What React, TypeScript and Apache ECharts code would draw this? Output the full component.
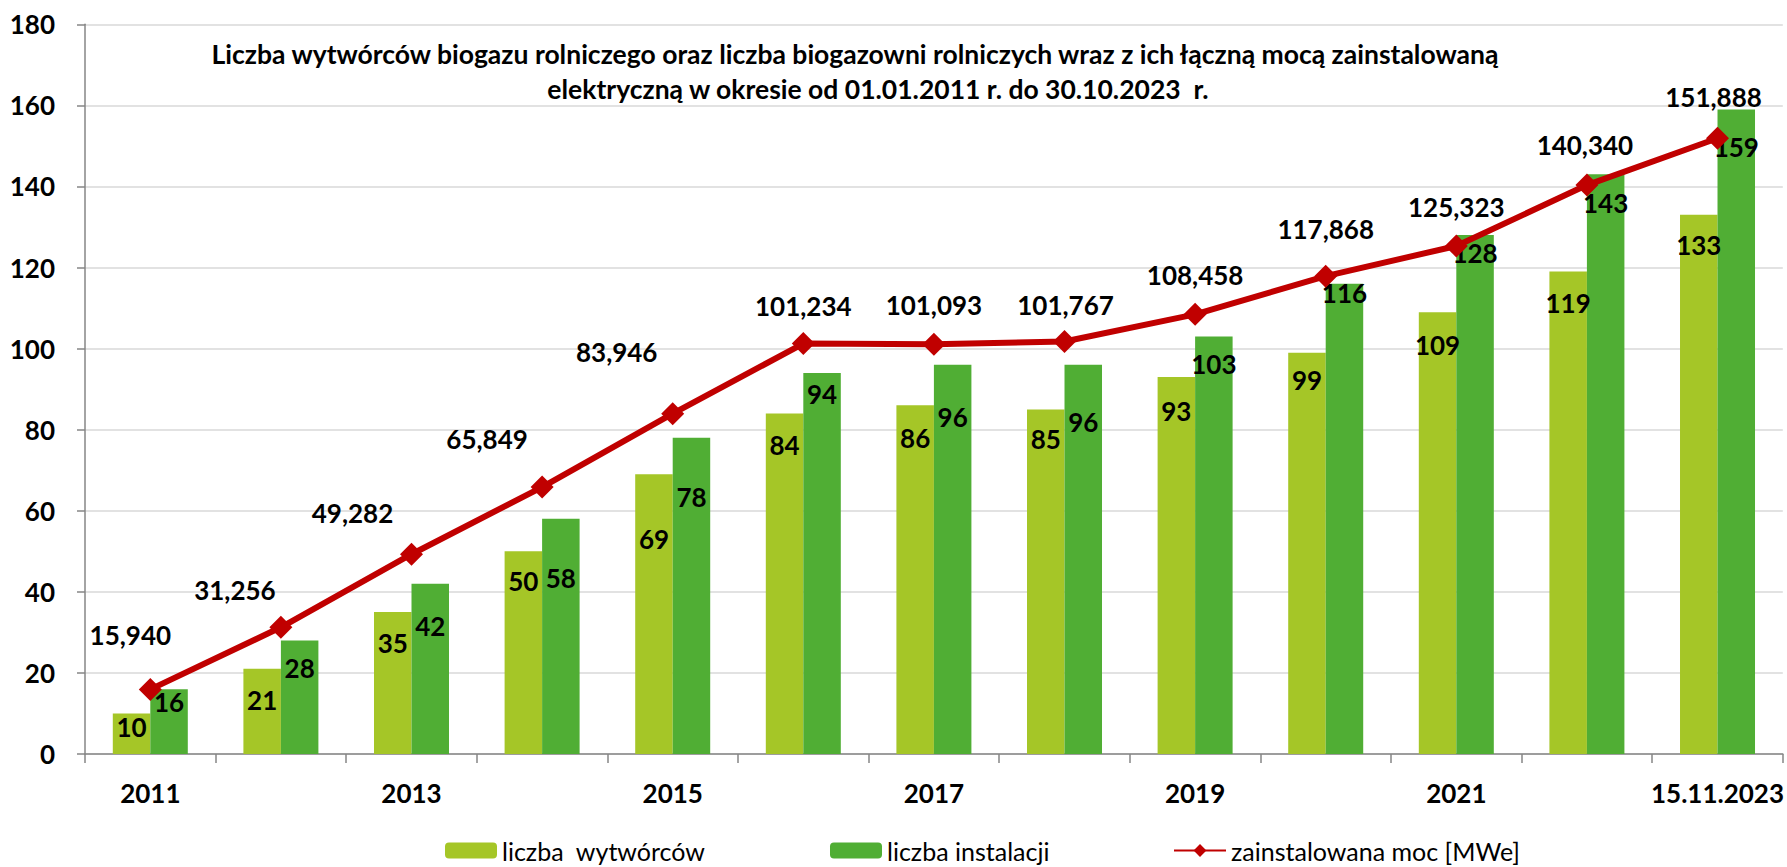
import React, { useEffect, useRef } from "react";
import * as echarts from "echarts";

const categories = ["2011", "2012", "2013", "2014", "2015", "2016", "2017", "2018", "2019", "2020", "2021", "2022", "15.11.2023"];
const producers = [10, 21, 35, 50, 69, 84, 86, 85, 93, 99, 109, 119, 133];
const installations = [16, 28, 42, 58, 78, 94, 96, 96, 103, 116, 128, 143, 159];
const capacity = [15.94, 31.256, 49.282, 65.849, 83.946, 101.234, 101.093, 101.767, 108.458, 117.868, 125.323, 140.34, 151.888];

const yTicks = { min: 0, max: 180, interval: 20 };

const titleLines = [
  "Liczba wytwórców biogazu rolniczego oraz liczba biogazowni rolniczych wraz z ich łączną mocą zainstalowaną",
  "elektryczną w okresie od 01.01.2011 r. do 30.10.2023  r.",
];

const seriesNames = ["liczba  wytwórców", "liczba instalacji", "zainstalowana moc [MWe]"];

// label placement (styling only): vertical shift of bar labels below bar top, line label offsets
const producersLabelDy = [14, 31, 31, 30, 65, 32, 33, 30, 34, 27, 33, 31, 30];
const installationsLabelDy = [13, 28, 42, 59, 59, 21, 52, 57, 28, 9, 18, 29, 38];
const capacityLabelOffset = [
  [-20, -54], [-46, -37], [-59, -41], [-55, -48], [-56, -62], [0, -38], [0, -39],
  [1, -36], [0, -39], [0, -47], [0, -39], [-2, -40], [-4, -41],
];

const FONT = "Lato";

export default function App() {
  const ref = useRef<HTMLDivElement>(null);

  useEffect(() => {
    if (!ref.current) return;
    const chart = echarts.init(ref.current, undefined, { renderer: "svg" });

    const barLabel = (dy: number) => ({
      show: true,
      position: "insideTop",
      distance: 0,
      verticalAlign: "middle",
      offset: [0, dy],
      fontFamily: FONT,
      fontWeight: "bold",
      fontSize: 26,
      color: "#000",
    });

    const titleText = (text: string, x: number, y: number) => ({
      type: "text",
      x,
      y,
      z: 100,
      style: {
        text,
        font: `bold 26.5px ${FONT}`,
        fill: "#000",
        align: "center",
        verticalAlign: "middle",
        textAlign: "center",
        textVerticalAlign: "middle",
      },
    });

    const option: any = {
      animation: false,
      backgroundColor: "#ffffff",
      textStyle: { fontFamily: FONT },
      grid: { left: 85, right: 4, top: 24.3, bottom: 113, containLabel: false },
      graphic: [titleText(titleLines[0], 855, 54), titleText(titleLines[1], 878, 89)],
      legend: [0, 1, 2].map((i) => ({
        data: [seriesNames[i]],
        left: [445, 830, 1173][i],
        top: 838,
        itemWidth: 52,
        itemHeight: 16,
        itemGap: 0,
        padding: 0,
        textStyle: { fontFamily: FONT, fontSize: 25, color: "#000" },
      })),
      xAxis: {
        type: "category",
        data: categories,
        boundaryGap: true,
        axisLine: { lineStyle: { color: "#868686", width: 1.5 } },
        axisTick: { show: true, interval: 0, length: 9, lineStyle: { color: "#868686", width: 1.5 } },
        axisLabel: {
          interval: 1,
          margin: 26,
          fontFamily: FONT,
          fontWeight: "bold",
          fontSize: 26,
          color: "#000",
        },
      },
      yAxis: {
        type: "value",
        min: yTicks.min,
        max: yTicks.max,
        interval: yTicks.interval,
        axisLine: { show: true, lineStyle: { color: "#868686", width: 1.5 } },
        axisTick: { show: true, length: 8, lineStyle: { color: "#868686", width: 1.5 } },
        splitLine: { show: true, lineStyle: { color: "#d9d9d9", width: 1.5 } },
        axisLabel: {
          margin: 30,
          fontFamily: FONT,
          fontWeight: "bold",
          fontSize: 26,
          color: "#000",
        },
      },
      series: [
        {
          name: seriesNames[0],
          type: "bar",
          barWidth: 37.5,
          barGap: "0%",
          itemStyle: { color: "#A5C627" },
          data: producers.map((v, i) => ({ value: v, label: barLabel(producersLabelDy[i]) })),
          z: 2,
        },
        {
          name: seriesNames[1],
          type: "bar",
          barWidth: 37.5,
          barGap: "0%",
          itemStyle: { color: "#50AE34" },
          data: installations.map((v, i) => ({ value: v, label: barLabel(installationsLabelDy[i]) })),
          z: 2,
        },
        {
          name: seriesNames[2],
          type: "line",
          symbol: "diamond",
          symbolSize: 23,
          z: 5,
          itemStyle: { color: "#C00000" },
          lineStyle: { color: "#C00000", width: 6 },
          data: capacity.map((v, i) => ({
            value: v,
            label: {
              show: true,
              position: "inside",
              align: "center",
              verticalAlign: "middle",
              offset: capacityLabelOffset[i],
              fontFamily: FONT,
              fontWeight: "bold",
              fontSize: 26,
              color: "#000",
              formatter: (p: any) => Number(p.value).toFixed(3).replace(".", ","),
            },
          })),
        },
      ],
    };

    chart.setOption(option);
    return () => chart.dispose();
  }, []);

  return (
    <div
      ref={ref}
      style={{ position: "absolute", left: 0, top: 0, width: 1787, height: 867, background: "#fff" }}
    />
  );
}
